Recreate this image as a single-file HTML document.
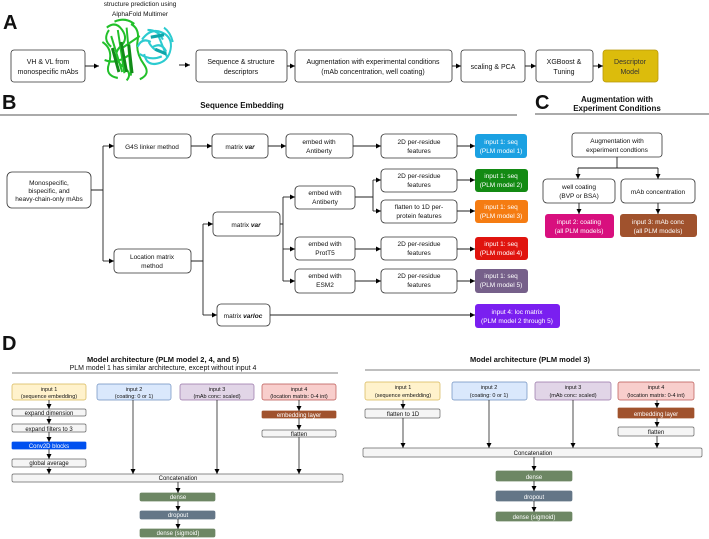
<!DOCTYPE html>
<html><head><meta charset="utf-8"><style>
html,body{margin:0;padding:0;background:#fff;}
svg{display:block;font-family:"Liberation Sans",sans-serif;}
</style></head><body>
<svg width="709" height="539" viewBox="0 0 709 539" xmlns="http://www.w3.org/2000/svg">
<defs>
<marker id="a" markerWidth="6" markerHeight="6" refX="5" refY="3" orient="auto" markerUnits="userSpaceOnUse"><path d="M0,0.5 L5,3 L0,5.5 Z" fill="#000"/></marker>
</defs>
<g font-size="7" fill="#111" text-anchor="middle">
<!-- Panel A -->
<text x="3" y="29" font-size="20" font-weight="bold" text-anchor="start">A</text>
<text x="140" y="6" font-size="6.5">structure prediction using</text>
<text x="140" y="16" font-size="6.5">AlphaFold Multimer</text>
<g fill="none" stroke-width="1.8" transform="translate(-12,-6) scale(1.1,1.2)">
<path d="M108,28 q8,-6 14,2 q6,8 -2,14 q-8,8 2,16 q10,6 4,12 M112,35 l10,30 M118,30 l6,36 M126,28 l4,40 M104,40 q10,6 6,18 q-4,10 8,12 M130,25 q8,4 6,14 q-2,10 6,20 q6,8 -4,12 M115,23 q10,-4 18,2 M122,45 l16,-10 M106,55 q10,4 22,-4 M110,30 q-6,8 2,14" stroke="#22c02a"/>
<path d="M113,45 l6,20 M121,40 l5,25 M128,42 l3,24" stroke="#118a18" stroke-width="2.6"/>
<path d="M140,38 q8,-10 18,-6 q10,4 8,14 q-2,10 -12,12 q-10,2 -12,-8 M145,30 q10,0 14,8 M150,44 q8,-4 12,4 M138,50 q10,6 20,2 M155,35 l8,18 M146,40 q6,10 16,8 M160,28 q6,4 8,12 M136,44 q4,-8 12,-4" stroke="#2ccbd0"/>
<path d="M152,46 l10,4 M148,36 l12,-2" stroke="#10a6aa" stroke-width="2.6"/>
</g>
<g fill="#fff" stroke="#333" stroke-width="0.8">
<rect x="11" y="50" width="74" height="32" rx="3"/>
<rect x="196" y="50" width="91" height="32" rx="3"/>
<rect x="295" y="50" width="157" height="32" rx="3"/>
<rect x="461" y="50" width="64" height="32" rx="3"/>
<rect x="536" y="50" width="57" height="32" rx="3"/>
<rect x="603" y="50" width="55" height="32" rx="3" fill="#dcbc0c" stroke="#b8980a"/>
</g>
<g stroke="#222" stroke-width="1" fill="none" marker-end="url(#a)">
<path d="M85,66 H99"/><path d="M179,65 H190"/><path d="M287,66 H295"/><path d="M452,66 H461"/><path d="M525,66 H536"/><path d="M593,66 H603"/>
</g>
<text x="48" y="64">VH &amp; VL from</text><text x="48" y="74">monospecific mAbs</text>
<text x="241" y="64">Sequence &amp; structure</text><text x="241" y="74">descriptors</text>
<text x="373" y="64">Augmentation with experimental conditions</text><text x="373" y="74">(mAb concentration, well coating)</text>
<text x="493" y="69">scaling &amp; PCA</text>
<text x="564" y="64">XGBoost &amp;</text><text x="564" y="74">Tuning</text>
<text x="630" y="64" fill="#333">Descriptor</text><text x="630" y="74" fill="#333">Model</text>

<!-- Panel B -->
<text x="2" y="109" font-size="20" font-weight="bold" text-anchor="start">B</text>
<text x="242" y="108" font-size="8" font-weight="bold">Sequence Embedding</text>
<line x1="0" y1="115" x2="517" y2="115" stroke="#555" stroke-width="1"/>
<g fill="#fff" stroke="#333" stroke-width="0.8">
<rect x="7" y="172" width="84" height="36" rx="5"/>
<rect x="114" y="134" width="77" height="24" rx="4"/>
<rect x="212" y="134" width="56" height="24" rx="4"/>
<rect x="286" y="134" width="67" height="24" rx="4"/>
<rect x="381" y="134" width="76" height="24" rx="4"/>
<rect x="114" y="249" width="77" height="24" rx="4"/>
<rect x="213" y="212" width="67" height="24" rx="4"/>
<rect x="295" y="186" width="60" height="23" rx="4"/>
<rect x="295" y="237" width="60" height="23" rx="4"/>
<rect x="295" y="269" width="60" height="24" rx="4"/>
<rect x="381" y="169" width="76" height="23" rx="4"/>
<rect x="381" y="200" width="76" height="23" rx="4"/>
<rect x="381" y="237" width="76" height="23" rx="4"/>
<rect x="381" y="269" width="76" height="24" rx="4"/>
<rect x="217" y="304" width="53" height="22" rx="4"/>
</g>
<g stroke="none">
<rect x="475" y="134" width="52" height="24" rx="3" fill="#1ba1e2"/>
<rect x="475" y="169" width="53" height="23" rx="3" fill="#138a13"/>
<rect x="475" y="200" width="53" height="23" rx="3" fill="#f57c12"/>
<rect x="475" y="237" width="53" height="23" rx="3" fill="#e0140e"/>
<rect x="475" y="269" width="53" height="24" rx="3" fill="#76608a"/>
<rect x="475" y="304" width="85" height="24" rx="3" fill="#7a1ff0"/>
</g>
<g stroke="#222" stroke-width="0.9" fill="none">
<path d="M91,190 H103 M103,146 V261 M191,261 H203 M203,224 V315 M280,224 H283 M283,197 V281 M355,197 H373 M373,180 V211"/>
</g>
<g stroke="#222" stroke-width="0.9" fill="none" marker-end="url(#a)">
<path d="M103,146 H114"/><path d="M103,261 H114"/><path d="M191,146 H212"/><path d="M268,146 H286"/><path d="M353,146 H381"/><path d="M457,146 H475"/>
<path d="M203,224 H213"/><path d="M203,315 H217"/><path d="M270,315 H475"/>
<path d="M283,197 H295"/><path d="M283,249 H295"/><path d="M283,281 H295"/>
<path d="M373,180 H381"/><path d="M373,211 H381"/><path d="M355,249 H381"/><path d="M355,281 H381"/>
<path d="M457,180 H475"/><path d="M457,211 H475"/><path d="M457,249 H475"/><path d="M457,281 H475"/>
</g>
<g font-size="6.5">
<text x="49" y="185">Monospecific,</text><text x="49" y="193">bispecific, and</text><text x="49" y="201">heavy-chain-only mAbs</text>
<text x="152" y="149">G4S linker method</text>
<text x="240" y="149">matrix <tspan font-weight="bold" font-style="italic">var</tspan></text>
<text x="319" y="144">embed with</text><text x="319" y="153">Antiberty</text>
<text x="419" y="144">2D per-residue</text><text x="419" y="153">features</text>
<text x="152" y="259">Location matrix</text><text x="152" y="268">method</text>
<text x="246" y="227">matrix <tspan font-weight="bold" font-style="italic">var</tspan></text>
<text x="325" y="195">embed with</text><text x="325" y="204">Antiberty</text>
<text x="325" y="246">embed with</text><text x="325" y="255">ProtT5</text>
<text x="325" y="278">embed with</text><text x="325" y="287">ESM2</text>
<text x="419" y="178">2D per-residue</text><text x="419" y="187">features</text>
<text x="419" y="209">flatten to 1D per-</text><text x="419" y="218">protein features</text>
<text x="419" y="246">2D per-residue</text><text x="419" y="255">features</text>
<text x="419" y="278">2D per-residue</text><text x="419" y="287">features</text>
<text x="243" y="318">matrix <tspan font-weight="bold" font-style="italic">varloc</tspan></text>
</g>
<g font-size="6.5" fill="#fff">
<text x="501" y="144">input 1: seq</text><text x="501" y="153">(PLM model 1)</text>
<text x="501" y="178">input 1: seq</text><text x="501" y="187">(PLM model 2)</text>
<text x="501" y="209">input 1: seq</text><text x="501" y="218">(PLM model 3)</text>
<text x="501" y="246">input 1: seq</text><text x="501" y="255">(PLM model 4)</text>
<text x="501" y="278">input 1: seq</text><text x="501" y="287">(PLM model 5)</text>
<text x="517" y="314">input 4: loc matrix</text><text x="517" y="323">(PLM model 2 through 5)</text>
</g>

<!-- Panel C -->
<text x="535" y="109" font-size="20" font-weight="bold" text-anchor="start">C</text>
<text x="617" y="102" font-size="8" font-weight="bold">Augmentation with</text>
<text x="617" y="111" font-size="8" font-weight="bold">Experiment Conditions</text>
<line x1="535" y1="114" x2="709" y2="114" stroke="#555" stroke-width="1"/>
<g fill="#fff" stroke="#333" stroke-width="0.8">
<rect x="572" y="133" width="90" height="24" rx="3"/>
<rect x="543" y="179" width="72" height="24" rx="4"/>
<rect x="621" y="179" width="74" height="24" rx="4"/>
</g>
<rect x="545" y="214" width="69" height="24" rx="3" fill="#d80f7e"/>
<rect x="620" y="214" width="77" height="23" rx="3" fill="#a0522d"/>
<g stroke="#222" stroke-width="0.9" fill="none"><path d="M617,157 V168 M578,168 H658"/></g>
<g stroke="#222" stroke-width="0.9" fill="none" marker-end="url(#a)">
<path d="M578,168 V179"/><path d="M658,168 V179"/><path d="M579,203 V214"/><path d="M658,203 V214"/>
</g>
<g font-size="6.5">
<text x="617" y="143">Augmentation with</text><text x="617" y="152">experiment condtions</text>
<text x="579" y="189">well coating</text><text x="579" y="198">(BVP or BSA)</text>
<text x="658" y="194">mAb concentration</text>
<text x="579" y="224" fill="#fff">input 2: coating</text><text x="579" y="233" fill="#fff">(all PLM models)</text>
<text x="658" y="224" fill="#fff">input 3: mAb conc</text><text x="658" y="233" fill="#fff">(all PLM models)</text>
</g>

<!-- Panel D left -->
<text x="2" y="350" font-size="20" font-weight="bold" text-anchor="start">D</text>
<text x="163" y="362" font-size="7.5" font-weight="bold">Model architecture (PLM model 2, 4, and 5)</text>
<text x="163" y="370" font-size="7">PLM model 1 has similar architecture, except without input 4</text>
<line x1="12" y1="373" x2="338" y2="373" stroke="#555" stroke-width="0.8"/>
<g stroke-width="0.7">
<rect x="12" y="384" width="74" height="16" rx="2" fill="#fff2cc" stroke="#d6b656"/>
<rect x="97" y="384" width="74" height="16" rx="2" fill="#dae8fc" stroke="#6c8ebf"/>
<rect x="180" y="384" width="74" height="16" rx="2" fill="#e1d5e7" stroke="#9673a6"/>
<rect x="262" y="384" width="74" height="16" rx="2" fill="#f8cecc" stroke="#b85450"/>
<rect x="12" y="409" width="74" height="7" rx="1.5" fill="#f5f5f5" stroke="#666"/>
<rect x="12" y="424" width="74" height="8" rx="1.5" fill="#f5f5f5" stroke="#666"/>
<rect x="12" y="442" width="74" height="7" rx="1" fill="#0050ef" stroke="#0050ef"/>
<rect x="12" y="459" width="74" height="8" rx="1.5" fill="#f5f5f5" stroke="#666"/>
<rect x="262" y="411" width="74" height="7" rx="1" fill="#a0522d" stroke="#a0522d"/>
<rect x="262" y="430" width="74" height="7" rx="1.5" fill="#f5f5f5" stroke="#666"/>
<rect x="12" y="474" width="331" height="8" rx="1.5" fill="#f5f5f5" stroke="#666"/>
<rect x="140" y="493" width="75" height="8" rx="1.5" fill="#6d8764" stroke="#6d8764"/>
<rect x="140" y="511" width="75" height="8" rx="1.5" fill="#647687" stroke="#647687"/>
<rect x="140" y="529" width="75" height="8" rx="1.5" fill="#6d8764" stroke="#6d8764"/>
</g>
<g stroke="#222" stroke-width="0.8" fill="none" marker-end="url(#a)">
<path d="M49,400 V409"/><path d="M49,416 V424"/><path d="M49,432 V442"/><path d="M49,449 V459"/><path d="M49,467 V474"/>
<path d="M133,400 V474"/><path d="M217,400 V474"/><path d="M299,400 V411"/><path d="M299,418 V430"/><path d="M299,437 V474"/>
<path d="M178,482 V493"/><path d="M178,501 V511"/><path d="M178,519 V529"/>
</g>
<g font-size="5.5">
<text x="49" y="391">input 1</text><text x="49" y="398">(sequence embedding)</text>
<text x="134" y="391">input 2</text><text x="134" y="398">(coating: 0 or 1)</text>
<text x="217" y="391">input 3</text><text x="217" y="398">(mAb conc: scaled)</text>
<text x="299" y="391">input 4</text><text x="299" y="398">(location matrix: 0-4 int)</text>
<text x="49" y="415" font-size="6">expand dimension</text>
<text x="49" y="431" font-size="6">expand filters to 3</text>
<text x="49" y="448" font-size="6" fill="#fff">Conv2D blocks</text>
<text x="49" y="465" font-size="6">global average</text>
<text x="299" y="417" font-size="6" fill="#fff">embedding layer</text>
<text x="299" y="436" font-size="6">flatten</text>
<text x="178" y="480" font-size="6">Concatenation</text>
<text x="178" y="499" font-size="6" fill="#fff">dense</text>
<text x="178" y="517" font-size="6" fill="#fff">dropout</text>
<text x="178" y="535" font-size="6" fill="#fff">dense (sigmoid)</text>
</g>

<!-- Panel D right -->
<text x="530" y="362" font-size="7.5" font-weight="bold">Model architecture (PLM model 3)</text>
<line x1="365" y1="370" x2="700" y2="370" stroke="#555" stroke-width="0.8"/>
<g stroke-width="0.7">
<rect x="365" y="382" width="75" height="18" rx="2" fill="#fff2cc" stroke="#d6b656"/>
<rect x="452" y="382" width="75" height="18" rx="2" fill="#dae8fc" stroke="#6c8ebf"/>
<rect x="535" y="382" width="76" height="18" rx="2" fill="#e1d5e7" stroke="#9673a6"/>
<rect x="618" y="382" width="76" height="18" rx="2" fill="#f8cecc" stroke="#b85450"/>
<rect x="365" y="409" width="75" height="9" rx="1.5" fill="#f5f5f5" stroke="#666"/>
<rect x="618" y="408" width="76" height="10" rx="1" fill="#a0522d" stroke="#a0522d"/>
<rect x="618" y="427" width="76" height="9" rx="1.5" fill="#f5f5f5" stroke="#666"/>
<rect x="363" y="448" width="339" height="9" rx="1.5" fill="#f5f5f5" stroke="#666"/>
<rect x="496" y="471" width="76" height="10" rx="1.5" fill="#6d8764" stroke="#6d8764"/>
<rect x="496" y="491" width="76" height="10" rx="1.5" fill="#647687" stroke="#647687"/>
<rect x="496" y="512" width="76" height="9" rx="1.5" fill="#6d8764" stroke="#6d8764"/>
</g>
<g stroke="#222" stroke-width="0.8" fill="none" marker-end="url(#a)">
<path d="M403,400 V409"/><path d="M403,418 V448"/><path d="M489,400 V448"/><path d="M573,400 V448"/>
<path d="M657,400 V408"/><path d="M657,418 V427"/><path d="M657,436 V448"/>
<path d="M534,457 V471"/><path d="M534,481 V491"/><path d="M534,501 V512"/>
</g>
<g font-size="5.5">
<text x="403" y="389">input 1</text><text x="403" y="397">(sequence embedding)</text>
<text x="489" y="389">input 2</text><text x="489" y="397">(coating: 0 or 1)</text>
<text x="573" y="389">input 3</text><text x="573" y="397">(mAb conc: scaled)</text>
<text x="656" y="389">input 4</text><text x="656" y="397">(location matrix: 0-4 int)</text>
<text x="403" y="416" font-size="6">flatten to 1D</text>
<text x="656" y="416" font-size="6" fill="#fff">embedding layer</text>
<text x="656" y="434" font-size="6">flatten</text>
<text x="533" y="455" font-size="6">Concatenation</text>
<text x="534" y="479" font-size="6" fill="#fff">dense</text>
<text x="534" y="499" font-size="6" fill="#fff">dropout</text>
<text x="534" y="519" font-size="6" fill="#fff">dense (sigmoid)</text>
</g>
</g>
</svg>
</body></html>
